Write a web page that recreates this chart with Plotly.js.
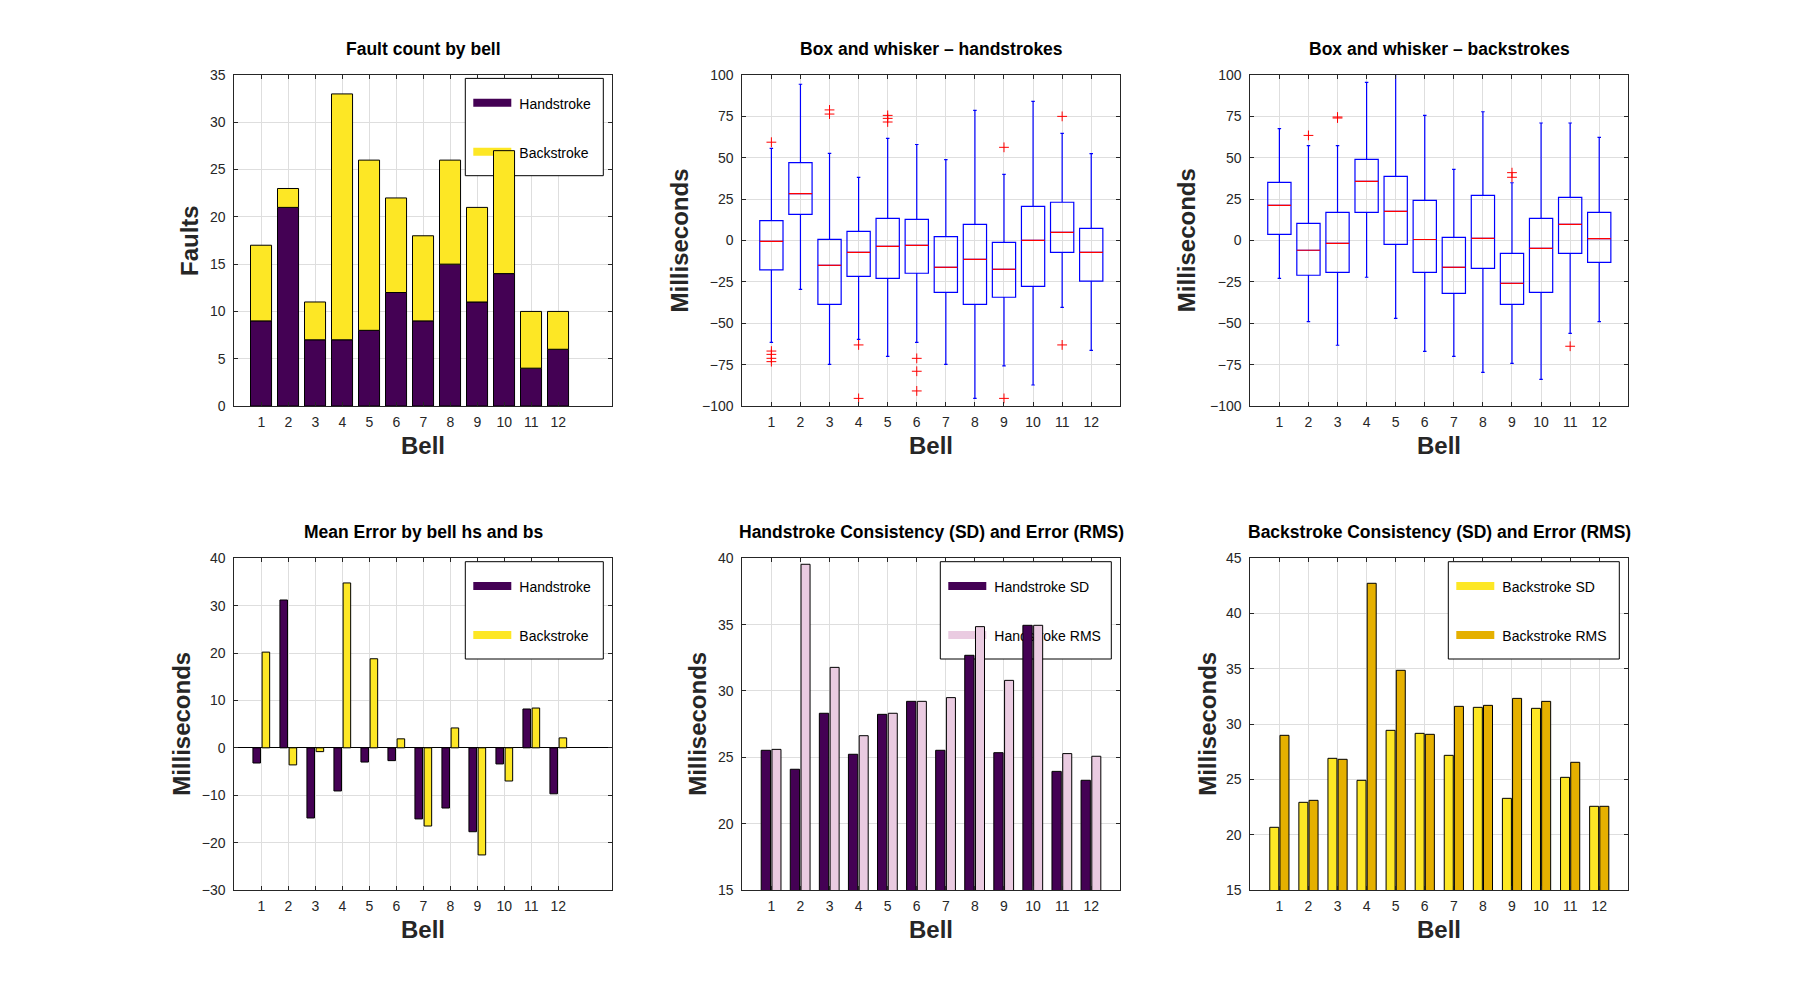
<!DOCTYPE html>
<html>
<head>
<meta charset="utf-8">
<script src="https://cdn.plot.ly/plotly-3.0.1.min.js"></script>
<style>html,body{margin:0;padding:0;background:#fff;}#chart{width:1800px;height:1000px;}</style>
</head>
<body>
<div id="chart"></div>
<script>
// ---------------- data ----------------
const bells = [1,2,3,4,5,6,7,8,9,10,11,12];

const faultsHand = [9,21,7,7,8,12,9,15,11,14,4,6];
const faultsBack = [8,2,4,26,18,10,9,11,10,13,6,4];

const hsQ1   = [-17.8, 15.8, -38.6, -21.7, -22.9, -19.8, -31.3, -38.6, -34.3, -27.7, -7.2, -24.5];
const hsMed  = [-0.5, 28.3, -15.0, -7.2, -3.5, -2.9, -16.2, -11.4, -17.4, 0.1, 4.9, -7.2];
const hsQ3   = [12.0, 47.0, 0.7, 5.5, 13.4, 12.8, 2.4, 9.8, -1.1, 20.6, 23.1, 7.3];
const hsLow  = [-61.5, -29.5, -74.8, -59.7, -70.0, -61.5, -74.8, -95.4, -75.8, -87.3, -40.4, -66.4];
const hsHigh = [55.7, 94.4, 52.6, 38.2, 61.7, 58.0, 48.9, 78.6, 40.0, 84.1, 64.7, 52.5];
const hsOutBell = [1,1,1,1,1, 3,3, 4,4, 5,5,5, 6,6,6, 9,9, 11,11];
const hsOutVal  = [59.4,-66.8,-68.8,-71.2,-73.2, 78.9,76.4, -63.1,-95.4, 75.6,73.8,71.6, -71.2,-79.0,-90.9, 56.3,-95.4, 75.0,-63.1];

const bsQ1   = [3.7, -21.0, -19.2, 17.0, -2.3, -19.2, -31.9, -16.8, -38.6, -31.3, -7.8, -13.2];
const bsMed  = [21.2, -5.9, -1.7, 35.7, 17.6, 0.6, -16.2, 1.3, -25.9, -4.7, 9.8, 1.1];
const bsQ3   = [35.1, 10.4, 17.0, 49.0, 38.8, 24.3, 1.9, 27.3, -7.8, 13.4, 26.1, 17.0];
const bsLow  = [-22.9, -49.0, -63.3, -22.2, -47.0, -67.0, -70.0, -79.7, -74.2, -83.9, -56.1, -49.0];
const bsHigh = [67.6, 57.3, 57.3, 95.6, 106.0, 75.6, 43.0, 77.8, 34.9, 71.0, 71.0, 62.3];
const bsOutBell = [2, 3,3, 9,9, 11];
const bsOutVal  = [63.5, 74.0, 74.6, 41.0, 38.2, -63.9];

const meanHand = [-3.2, 31.2, -14.8, -9.1, -3.0, -2.7, -15.0, -12.7, -17.7, -3.4, 8.2, -9.7];
const meanBack = [20.2, -3.6, -0.8, 34.8, 18.8, 1.9, -16.5, 4.2, -22.6, -7.0, 8.4, 2.1];

const hsSD  = [25.53, 24.10, 28.32, 25.23, 28.24, 29.22, 25.53, 32.69, 25.35, 34.95, 23.94, 23.27];
const hsRMS = [25.60, 39.55, 31.78, 26.63, 28.32, 29.22, 29.50, 34.85, 30.80, 34.95, 25.28, 25.08];
const bsSD  = [20.67, 22.93, 26.91, 24.92, 29.44, 29.17, 27.18, 31.52, 23.29, 31.43, 25.19, 22.57];
const bsRMS = [28.99, 23.11, 26.82, 42.74, 34.87, 29.08, 31.61, 31.70, 32.33, 32.06, 26.55, 22.57];

const titles = ['Fault count by bell', 'Box and whisker \u2013 handstrokes', 'Box and whisker \u2013 backstrokes',
                'Mean Error by bell hs and bs', 'Handstroke Consistency (SD) and Error (RMS)', 'Backstroke Consistency (SD) and Error (RMS)'];
const yTitles = ['Faults','Milliseconds','Milliseconds','Milliseconds','Milliseconds','Milliseconds'];
const xTitle = 'Bell';

// ---------------- style ----------------
const W = 1800, H = 1000;
const PURPLE = '#440154', YELLOW = '#FDE725', PINK = '#EACBE1', GOLD = '#E5B000';
const FONT = '"Liberation Sans", Arial, Helvetica, sans-serif';
const INK = '#262626';
const cols = [[234.3, 612.3], [742.3, 1120.3], [1250.3, 1628.3]];
const rows = [[75, 406], [558.3, 890]];
const px = p => p / W, py = p => 1 - p / H;

const axisBase = {
  showline: true, linecolor: INK, linewidth: 1, mirror: 'ticks',
  ticks: 'inside', ticklen: 4, tickwidth: 1, tickcolor: INK,
  showgrid: true, gridcolor: '#DEDEDE', gridwidth: 1, zeroline: false,
  tickfont: {family: FONT, size: 14, color: INK}, ticklabelstandoff: 5,
  fixedrange: true
};

const layout = {
  width: W, height: H, margin: {l: 0, r: 0, t: 0, b: 0, pad: 0},
  paper_bgcolor: '#fff', plot_bgcolor: '#fff', showlegend: false,
  font: {family: FONT, color: INK},
  annotations: [], shapes: []
};

const xRanges = [[0,14],[0,13],[0,13],[0,14],[0,13],[0,13]];
const yRanges = [[0,35],[-100,100],[-100,100],[-30,40],[15,40],[15,45]];
const yDticks = [5,25,25,10,5,5];
const sfxOf = k => (k === 0 ? '' : String(k + 1));

for (let k = 0; k < 6; k++) {
  const r = Math.floor(k / 3), c = k % 3;
  const sfx = sfxOf(k);
  layout['xaxis' + sfx] = Object.assign({}, axisBase, {
    domain: [px(cols[c][0]), px(cols[c][1])], range: xRanges[k],
    tickmode: 'array', tickvals: bells, ticktext: bells.map(String),
    ticklabelstandoff: 3, anchor: 'y' + sfx
  });
  layout['yaxis' + sfx] = Object.assign({}, axisBase, {
    domain: [py(rows[r][1]), py(rows[r][0])], range: yRanges[k],
    dtick: yDticks[k], tick0: 0, anchor: 'x' + sfx
  });
  if (k === 3) Object.assign(layout['yaxis' + sfx], {zeroline: true, zerolinecolor: '#000', zerolinewidth: 1});
  const cx = (cols[c][0] + cols[c][1]) / 2;
  layout.annotations.push({
    text: '<b>' + titles[k] + '</b>', xref: 'paper', yref: 'paper',
    x: px(cx), y: py(rows[r][0] - 26), xanchor: 'center', yanchor: 'middle',
    showarrow: false, font: {family: FONT, size: 17.5, color: '#000'}
  });
  layout.annotations.push({
    text: '<b>' + xTitle + '</b>', xref: 'paper', yref: 'paper',
    x: px(cx), y: py(rows[r][1] + 39), xanchor: 'center', yanchor: 'middle',
    showarrow: false, font: {family: FONT, size: 24, color: INK}
  });
}
const yTitleX = [189.5, 679, 1186.7, 180.7, 696.7, 1206.7];
for (let k = 0; k < 6; k++) {
  const r = Math.floor(k / 3);
  layout.annotations.push({
    text: '<b>' + yTitles[k] + '</b>', xref: 'paper', yref: 'paper',
    x: px(yTitleX[k]), y: py((rows[r][0] + rows[r][1]) / 2), xanchor: 'center', yanchor: 'middle',
    textangle: -90, showarrow: false, font: {family: FONT, size: 24, color: INK}
  });
}

// legends drawn as shapes in each subplot's "between" layer (above grid, beneath traces)
function addLegend(k, width, entries) {
  const r = Math.floor(k / 3), c = k % 3, sfx = sfxOf(k);
  const L = cols[c][0], R = cols[c][1], T = rows[r][0], B = rows[r][1];
  const xa = xRanges[k], ya = yRanges[k];
  const dx = p => xa[0] + (p - L) / (R - L) * (xa[1] - xa[0]);
  const dy = p => ya[0] + (B - p) / (B - T) * (ya[1] - ya[0]);
  const xr = 'x' + sfx, yr = 'y' + sfx;
  const right = R - 9, left = right - width;
  const top = T + 3.4, bottom = top + 97.3;
  layout.shapes.push({type: 'rect', xref: xr, yref: yr, layer: 'between',
    x0: dx(left), x1: dx(right), y0: dy(bottom), y1: dy(top),
    fillcolor: '#fff', line: {color: '#000', width: 1}});
  entries.forEach((e, i) => {
    const yy = top + 24.4 + i * 49;
    layout.shapes.push({type: 'rect', xref: xr, yref: yr, layer: 'between',
      x0: dx(left + 8), x1: dx(left + 46), y0: dy(yy + 4), y1: dy(yy - 4),
      fillcolor: e[1], line: {width: 0}});
    layout.shapes.push({type: 'line', xref: xr, yref: yr, layer: 'between',
      x0: dx(left + 54), x1: dx(left + 55), y0: dy(yy), y1: dy(yy),
      line: {color: 'rgba(0,0,0,0)', width: 0},
      label: {text: e[0], textposition: 'start', xanchor: 'left', yanchor: 'middle', padding: 0,
              font: {family: FONT, size: 14, color: '#000'}}});
  });
}
addLegend(0, 138, [['Handstroke', PURPLE], ['Backstroke', YELLOW]]);
addLegend(3, 138, [['Handstroke', PURPLE], ['Backstroke', YELLOW]]);
addLegend(4, 171, [['Handstroke SD', PURPLE], ['Handstroke RMS', PINK]]);
addLegend(5, 171, [['Backstroke SD', YELLOW], ['Backstroke RMS', GOLD]]);

// ---------------- traces ----------------
const barLine = {color: '#000', width: 1};
const traces = [];

// 1: stacked fault count
traces.push({type: 'bar', x: bells, y: faultsHand, xaxis: 'x', yaxis: 'y', name: 'Handstroke',
  width: 0.78, offset: -0.40, marker: {color: PURPLE, line: barLine}});
traces.push({type: 'bar', x: bells, y: faultsBack, base: faultsHand, xaxis: 'x', yaxis: 'y', name: 'Backstroke',
  width: 0.78, offset: -0.40, marker: {color: YELLOW, line: barLine}});

// 2 & 3: box plots
const BOX_W = 0.8;
function boxSet(ax, ay, q1, med, q3, lo, hi, outB, outV, name) {
  traces.push({type: 'box', x: bells, q1: q1, median: med, q3: q3, lowerfence: lo, upperfence: hi,
    xaxis: ax, yaxis: ay, name: name, width: BOX_W, whiskerwidth: 0.15, boxpoints: false,
    fillcolor: 'rgba(255,255,255,0)', line: {color: '#0000FF', width: 1.2}});
  const mx = [], my = [];
  bells.forEach((b, i) => { mx.push(b - BOX_W / 2, b + BOX_W / 2, null); my.push(med[i], med[i], null); });
  traces.push({type: 'scatter', mode: 'lines', x: mx, y: my, xaxis: ax, yaxis: ay,
    line: {color: '#FF0000', width: 1.2}, hoverinfo: 'skip'});
  traces.push({type: 'scatter', mode: 'markers', x: outB, y: outV, xaxis: ax, yaxis: ay,
    marker: {symbol: 'cross-thin-open', size: 7, color: '#FF0000', line: {color: '#FF0000', width: 1}}});
}
boxSet('x2', 'y2', hsQ1, hsMed, hsQ3, hsLow, hsHigh, hsOutBell, hsOutVal, 'Handstrokes');
boxSet('x3', 'y3', bsQ1, bsMed, bsQ3, bsLow, bsHigh, bsOutBell, bsOutVal, 'Backstrokes');

// 4: mean error grouped
traces.push({type: 'bar', x: bells, y: meanHand, xaxis: 'x4', yaxis: 'y4', name: 'Handstroke',
  width: 0.28, offset: -0.31, marker: {color: PURPLE, line: barLine}});
traces.push({type: 'bar', x: bells, y: meanBack, xaxis: 'x4', yaxis: 'y4', name: 'Backstroke',
  width: 0.28, offset: 0.03, marker: {color: YELLOW, line: barLine}});

// 5: handstroke SD / RMS
traces.push({type: 'bar', x: bells, y: hsSD, xaxis: 'x5', yaxis: 'y5', name: 'Handstroke SD',
  width: 0.32, offset: -0.35, marker: {color: PURPLE, line: barLine}});
traces.push({type: 'bar', x: bells, y: hsRMS, xaxis: 'x5', yaxis: 'y5', name: 'Handstroke RMS',
  width: 0.31, offset: 0.02, marker: {color: PINK, line: barLine}});

// 6: backstroke SD / RMS
traces.push({type: 'bar', x: bells, y: bsSD, xaxis: 'x6', yaxis: 'y6', name: 'Backstroke SD',
  width: 0.31, offset: -0.33, marker: {color: YELLOW, line: barLine}});
traces.push({type: 'bar', x: bells, y: bsRMS, xaxis: 'x6', yaxis: 'y6', name: 'Backstroke RMS',
  width: 0.31, offset: 0.02, marker: {color: GOLD, line: barLine}});

Plotly.newPlot('chart', traces, layout, {staticPlot: true, displayModeBar: false});
</script>
</body>
</html>
